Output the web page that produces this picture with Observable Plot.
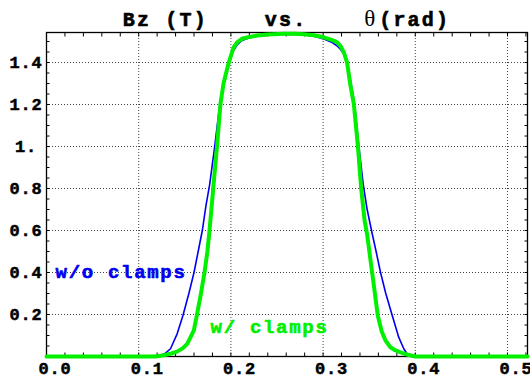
<!DOCTYPE html>
<html>
<head>
<meta charset="utf-8">
<script src="https://cdn.jsdelivr.net/npm/d3@7"></script>
<script src="https://cdn.jsdelivr.net/npm/@observablehq/plot@0.6"></script>
<style>
  body { margin: 0; background: #fff; }
  #wrap { position: relative; width: 530px; height: 381px; }
  #title {
    position: absolute; left: 46px; width: 481px; top: 6px;
    text-align: center; white-space: pre;
    font: bold 20px "Liberation Mono", monospace; letter-spacing: 2.2px; line-height: 24px;
    -webkit-text-stroke: 0.6px #000;
  }
  #title .th { font: normal 23px "Liberation Serif", serif; letter-spacing: 0; margin-right: 4px; -webkit-text-stroke: 0; }
  #chart { position: absolute; left: 0; top: 0; }
  svg g[aria-label="text"] text { letter-spacing: 1.7px; }
  svg g[aria-label$="tick label"] text { letter-spacing: 0.8px; stroke: #000; stroke-width: 0.5px; }
</style>
</head>
<body>
<div id="wrap">
  <div id="chart"></div>
  <div id="title"><span>Bz (T)    vs.    </span><span class="th">θ</span><span>(rad)</span></div>
</div>
<script>
// Bz along θ, without clamps (blue)
const thetaBlue = [0, 0.118, 0.1236, 0.129, 0.1345, 0.1417, 0.148, 0.1544, 0.160, 0.1645, 0.169, 0.173, 0.177, 0.1826, 0.188, 0.193, 0.1977, 0.2025, 0.207, 0.212, 0.22, 0.2285, 0.24, 0.2574, 0.27, 0.279, 0.29, 0.3008, 0.31, 0.315, 0.319, 0.3225, 0.3265, 0.33, 0.334, 0.3387, 0.3435, 0.3478, 0.3525, 0.3575, 0.3623, 0.368, 0.375, 0.382, 0.3875, 0.391, 0.3966, 0.5217];
const bzBlue = [0, 0, 0.005, 0.016, 0.037, 0.108, 0.195, 0.30, 0.40, 0.50, 0.60, 0.72, 0.82, 1.005, 1.203, 1.33, 1.40, 1.455, 1.485, 1.505, 1.518, 1.525, 1.53, 1.535, 1.534, 1.532, 1.525, 1.512, 1.495, 1.48, 1.462, 1.44, 1.385, 1.31, 1.206, 1.005, 0.82, 0.70, 0.60, 0.50, 0.40, 0.30, 0.195, 0.092, 0.037, 0.013, 0, 0];

// Bz along θ, with clamps (green)
const thetaGreen = [0, 0.118, 0.127, 0.1345, 0.141, 0.148, 0.1526, 0.156, 0.1598, 0.163, 0.1675, 0.1714, 0.1745, 0.1768, 0.1797, 0.1808, 0.185, 0.1887, 0.192, 0.1977, 0.203, 0.207, 0.212, 0.22, 0.2285, 0.24, 0.2574, 0.27, 0.279, 0.29, 0.3008, 0.31, 0.315, 0.319, 0.3225, 0.326, 0.3297, 0.3333, 0.3377, 0.3413, 0.345, 0.3478, 0.3532, 0.3593, 0.3635, 0.3677, 0.373, 0.378, 0.384, 0.392, 0.400, 0.5217];
const bzGreen = [0, 0, 0.006, 0.013, 0.022, 0.04, 0.06, 0.09, 0.124, 0.195, 0.30, 0.40, 0.50, 0.60, 0.743, 0.80, 1.005, 1.203, 1.30, 1.40, 1.473, 1.497, 1.513, 1.522, 1.529, 1.534, 1.537, 1.537, 1.535, 1.53, 1.52, 1.507, 1.497, 1.478, 1.449, 1.40, 1.29, 1.203, 1.005, 0.80, 0.648, 0.58, 0.40, 0.195, 0.12, 0.076, 0.044, 0.03, 0.02, 0.008, 0, 0];

// Axis ticks
const xTicks = [0, 0.1, 0.2, 0.3, 0.4, 0.5];
const yTicks = [0.2, 0.4, 0.6, 0.8, 1.0, 1.2, 1.4];

// Curve labels
const labelText = ["w/o clamps", "w/ clamps"];
const labelTheta = [0.0098, 0.178];
const labelBz = [0.405, 0.142];

const blue = thetaBlue.map((t, i) => ({theta: t, bz: bzBlue[i]}));
const green = thetaGreen.map((t, i) => ({theta: t, bz: bzGreen[i]}));
const labels = labelText.map((s, i) => ({s, theta: labelTheta[i], bz: labelBz[i]}));

const BLUE = "#0000f0";
const GREEN = "#00f000";
const none = () => "";
const grid = {stroke: "#000", strokeOpacity: 0.75, strokeDasharray: "1,2", strokeWidth: 1};

const chart = Plot.plot({
  width: 530, height: 381,
  marginTop: 32, marginBottom: 25, marginLeft: 46, marginRight: 3,
  x: {domain: [0, 0.5217]},
  y: {domain: [0, 1.543]},
  style: {fontFamily: "'Liberation Mono', monospace", fontWeight: "bold", fontSize: "17px", background: "white", color: "black"},
  marks: [
    Plot.gridX(xTicks.filter(d => d > 0), grid),
    Plot.gridY(yTicks, grid),
    // inward minor ticks on all four sides
    Plot.axisX({anchor: "bottom", interval: 0.02, tickSize: -3.5, tickFormat: none, label: null}),
    Plot.axisX({anchor: "top", interval: 0.02, tickSize: -3.5, tickFormat: none, label: null}),
    Plot.axisY({anchor: "left", interval: 0.05, tickSize: -3.5, tickFormat: none, label: null}),
    Plot.axisY({anchor: "right", interval: 0.05, tickSize: -3.5, tickFormat: none, label: null}),
    // tick labels
    Plot.axisX(xTicks, {anchor: "bottom", tickSize: 0, tickPadding: 5, dx: 8.5, tickFormat: d => d.toFixed(1), label: null}),
    Plot.axisY(yTicks, {anchor: "left", tickSize: 0, tickPadding: 20.5, textAnchor: "middle", tickFormat: d => d === 1 ? "1." : d.toFixed(1), label: null}),
    Plot.frame({stroke: "black", strokeWidth: 1.3}),
    Plot.line(blue, {x: "theta", y: "bz", stroke: BLUE, strokeWidth: 1.6}),
    Plot.line(green, {x: "theta", y: "bz", stroke: GREEN, strokeWidth: 4}),
    Plot.text(labels.slice(0, 1), {x: "theta", y: "bz", text: "s", fill: BLUE, stroke: BLUE, strokeWidth: 0.6, textAnchor: "start", fontSize: 19, fontWeight: "bold"}),
    Plot.text(labels.slice(1), {x: "theta", y: "bz", text: "s", fill: GREEN, stroke: GREEN, strokeWidth: 0.6, textAnchor: "start", fontSize: 19, fontWeight: "bold"})
  ]
});
document.getElementById("chart").appendChild(chart);
</script>
</body>
</html>
